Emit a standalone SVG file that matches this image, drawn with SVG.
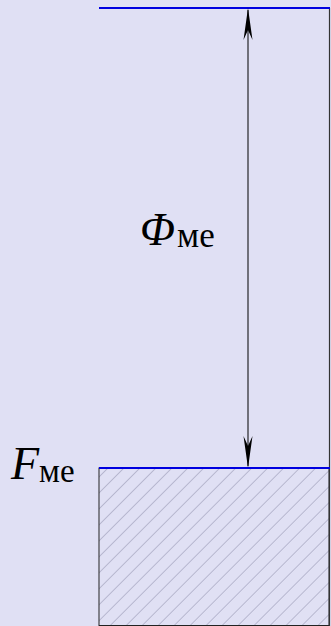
<svg xmlns="http://www.w3.org/2000/svg" width="331" height="626" viewBox="0 0 331 626">
<defs>
<pattern id="hatch" patternUnits="userSpaceOnUse" width="11.3" height="11.3" patternTransform="rotate(45)">
<line x1="0" y1="0" x2="0" y2="11.3" stroke="#7a7a98" stroke-width="0.8"/>
</pattern>
<style>
.blue{stroke:#0000e0;stroke-width:2}
</style>
</defs>
<rect width="331" height="626" fill="#e0e0f4"/>
<g id="block">
<rect x="99" y="468" width="230" height="157.5" fill="url(#hatch)" stroke="#222" stroke-width="1"/>
</g>
<g id="edge">
<line x1="329.5" y1="8" x2="329.5" y2="626" stroke="#333" stroke-width="1.2"/>
</g>
<g id="lines">
<line class="blue" x1="99" y1="8" x2="330" y2="8"/>
<line class="blue" x1="99" y1="468" x2="330" y2="468" stroke-width="1.5"/>
</g>
<g id="connectors">
<line x1="248" y1="10" x2="248" y2="466" stroke="#000" stroke-width="1"/>
<path d="M248,8 L252.5,40 L248,30 L243.5,40 Z" fill="#000"/>
<path d="M248,468 L252.5,436 L248,446 L243.5,436 Z" fill="#000"/>
</g>
<g id="labels" font-family="Liberation Serif, Times New Roman, serif" fill="#000">
<text x="140" y="245" font-size="46"><tspan font-style="italic">Φ</tspan><tspan font-size="35" dx="2" dy="2">ме</tspan></text>
<text x="11" y="479" font-size="46"><tspan font-style="italic">F</tspan><tspan font-size="33" dy="3">ме</tspan></text>
</g>
</svg>
